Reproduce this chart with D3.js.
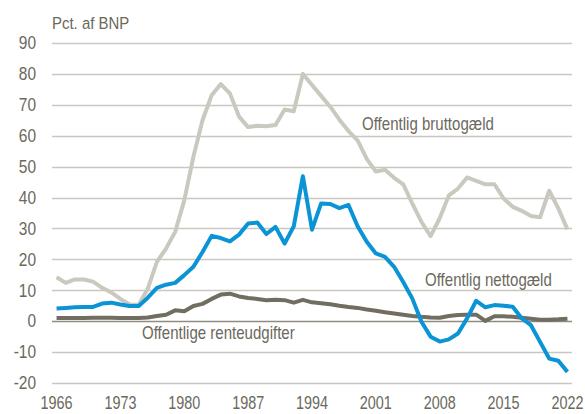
<!DOCTYPE html>
<html>
<head>
<meta charset="utf-8">
<script src="https://cdn.jsdelivr.net/npm/d3@7"></script>
<style>
body { margin: 0; background: #fff; }
text { font-family: "Liberation Sans", Arial, sans-serif; fill: #6b685c; }
</style>
</head>
<body>
<div id="chart"></div>
<script>
// data, pct. of GDP
var years = d3.range(1966, 2023);

var brutto = [14.2, 12.4, 13.5, 13.5, 12.8, 10.8, 9.3, 7.2, 5.4, 5.3,
	10.5, 19.2, 23.5, 28.9, 39.1, 53.2, 65.0, 73.1, 76.7, 73.7,
	66.2, 62.8, 63.2, 63.1, 63.5, 68.5, 67.9, 80.0, 76.4, 72.9,
	69.4, 65.2, 61.5, 58.5, 52.5, 48.4, 49.0, 46.4, 44.3, 38.0,
	32.1, 27.5, 33.3, 40.7, 42.9, 46.5, 45.4, 44.3, 44.3, 39.7,
	37.0, 35.7, 34.0, 33.6, 42.2, 36.5, 29.7];

var netto = [4.1, 4.3, 4.5, 4.6, 4.6, 5.7, 6.0, 5.4, 4.9, 4.9,
	7.6, 10.8, 11.8, 12.4, 14.9, 17.6, 22.4, 27.6, 26.9, 25.8,
	28.0, 31.6, 31.9, 28.2, 30.5, 25.1, 30.7, 46.9, 29.6, 38.1,
	37.9, 36.6, 37.6, 30.7, 25.7, 21.9, 20.8, 17.6, 12.7, 7.3,
	-0.2, -5.0, -6.6, -5.9, -4.0, 0.9, 6.6, 4.5, 5.2, 5.0,
	4.7, 0.9, -1.3, -6.7, -12.1, -12.8, -16.4];

var rente = [1.0, 1.0, 1.0, 1.0, 1.1, 1.1, 1.1, 1.0, 1.0, 1.0,
	1.2, 1.7, 2.1, 3.5, 3.2, 4.9, 5.6, 7.2, 8.6, 8.9,
	8.0, 7.5, 7.2, 6.8, 6.9, 6.8, 6.0, 6.9, 6.1, 5.8,
	5.5, 5.0, 4.6, 4.3, 3.8, 3.4, 2.9, 2.5, 2.1, 1.7,
	1.4, 1.2, 1.1, 1.7, 2.0, 2.1, 2.1, 0.1, 1.6, 1.6,
	1.4, 1.1, 0.8, 0.5, 0.5, 0.6, 0.8];

var xTicks = [1966, 1973, 1980, 1987, 1994, 2001, 2008, 2015, 2022];
var yTicks = [-20, -10, 0, 10, 20, 30, 40, 50, 60, 70, 80, 90];

var width = 585;
var height = 414;

var svg = d3.select("#chart")
	.append("svg")
	.attr("width", width)
	.attr("height", height);

// category axis: every year sits in the middle of its slot
var xScale = d3.scaleLinear()
	.domain([1965.5, 2022.5])
	.range([52, 572]);

var yScale = d3.scaleLinear()
	.domain([-20, 90])
	.range([383, 43]);

// no narrow font installed, so squeeze the regular one
function narrow(x, y, sx)
{
	return "translate(" + x + "," + y + ") scale(" + sx + ",1)";
}

// gridlines
svg.append("g")
	.selectAll("line")
	.data(yTicks)
	.enter()
	.append("line")
	.attr("x1", 52)
	.attr("x2", 572)
	.attr("y1", function(d){ return Math.round(yScale(d)) + 0.5; })
	.attr("y2", function(d){ return Math.round(yScale(d)) + 0.5; })
	.attr("stroke", function(d){ return d == 0 ? "#8e8b80" : "#cac8be"; })
	.attr("stroke-width", function(d){ return d == 0 ? 1.5 : 1.3; });

// y tick labels
svg.append("g")
	.selectAll("text")
	.data(yTicks)
	.enter()
	.append("text")
	.attr("transform", function(d){ return narrow(36, yScale(d), 0.86); })
	.attr("dy", "0.35em")
	.style("text-anchor", "end")
	.style("font-size", "18px")
	.text(function(d){ return d; });

// x tick labels
svg.append("g")
	.selectAll("text")
	.data(xTicks)
	.enter()
	.append("text")
	.attr("transform", function(d){ return narrow(xScale(d), 409, 0.8); })
	.style("text-anchor", "middle")
	.style("font-size", "18px")
	.text(function(d){ return d; });

svg.append("text")
	.attr("transform", narrow(52, 29, 0.88))
	.style("font-size", "17px")
	.text("Pct. af BNP");

function drawLine(values, color)
{
	var line = d3.line()
		.x(function(d, i){ return xScale(years[i]); })
		.y(function(d){ return yScale(d); });

	svg.append("path")
		.datum(values)
		.attr("d", line)
		.attr("fill", "none")
		.attr("stroke", color)
		.attr("stroke-width", 4)
		.attr("stroke-linejoin", "round");
}

drawLine(brutto, "#c9c9bf");
drawLine(rente, "#716d60");
drawLine(netto, "#0a94d6");

// series labels
var labels = [["Offentlig bruttogæld", 362, 130], ["Offentlig nettogæld", 425, 286], ["Offentlige renteudgifter", 142, 339]];
svg.selectAll(".label")
	.data(labels)
	.enter()
	.append("text")
	.attr("class", "label")
	.attr("transform", function(d){ return narrow(d[1], d[2], 0.86); })
	.style("font-size", "17.5px")
	.text(function(d){ return d[0]; });
</script>
</body>
</html>
